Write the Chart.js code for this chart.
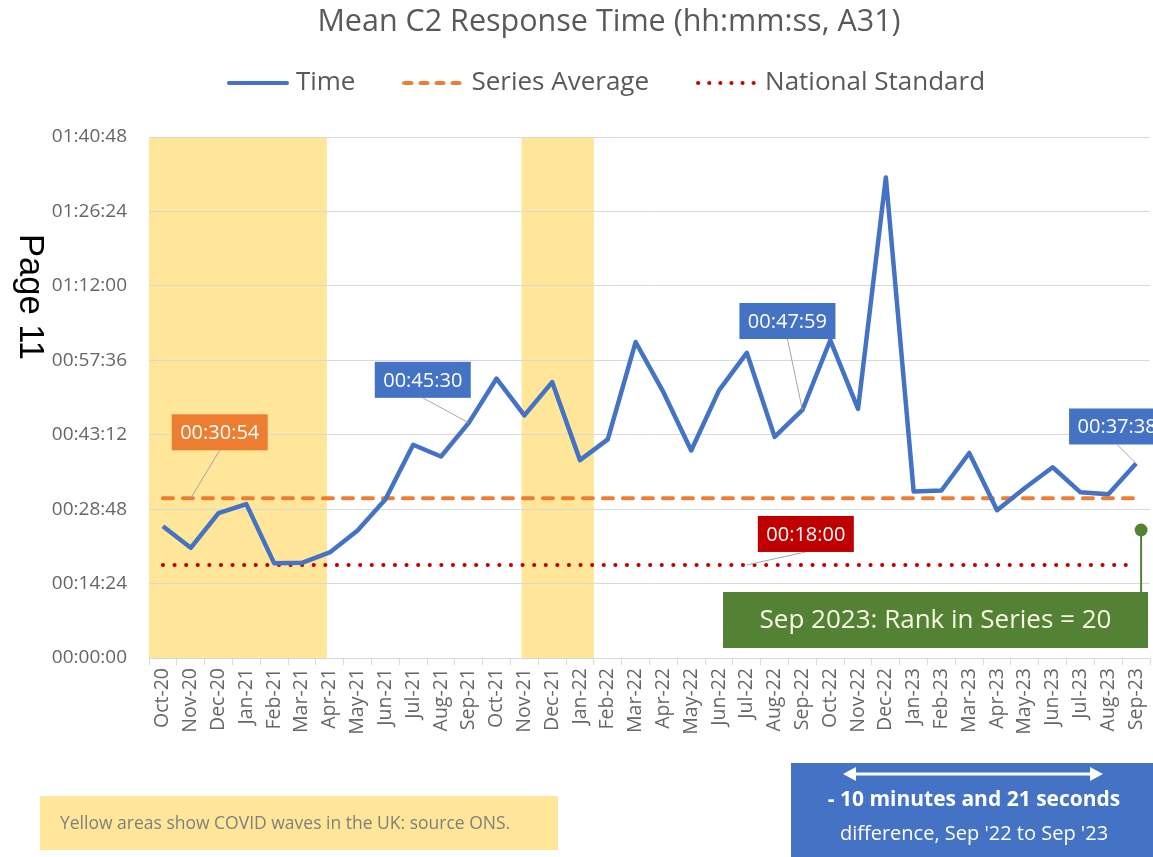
<!DOCTYPE html>
<html>
<head>
<meta charset="utf-8">
<title>Mean C2 Response Time</title>
<script src="https://cdn.jsdelivr.net/npm/chart.js@4.4.1/dist/chart.umd.min.js"></script>
<style>
  body { margin: 0; background: #fff; }
  #wrap { position: relative; width: 1153px; height: 857px; }
</style>
</head>
<body>
<div id="wrap"><canvas id="c2Chart"></canvas></div>
<script>
// months on the x axis
const months = ['Oct-20', 'Nov-20', 'Dec-20', 'Jan-21', 'Feb-21', 'Mar-21', 'Apr-21', 'May-21', 'Jun-21',
  'Jul-21', 'Aug-21', 'Sep-21', 'Oct-21', 'Nov-21', 'Dec-21', 'Jan-22', 'Feb-22', 'Mar-22', 'Apr-22',
  'May-22', 'Jun-22', 'Jul-22', 'Aug-22', 'Sep-22', 'Oct-22', 'Nov-22', 'Dec-22', 'Jan-23', 'Feb-23',
  'Mar-23', 'Apr-23', 'May-23', 'Jun-23', 'Jul-23', 'Aug-23', 'Sep-23'];

// mean C2 response time, in seconds
const timeSeconds = [1529, 1279, 1682, 1786, 1101, 1105, 1225, 1479, 1840,
  2476, 2339, 2730, 3244, 2816, 3203, 2297, 2538, 3668, 3086,
  2409, 3107, 3543, 2567, 2879, 3689, 2891, 5579, 1932, 1944,
  2380, 1716, 1973, 2214, 1923, 1902, 2258];

const seriesAverage = 1854;     // 00:30:54
const nationalStandard = 1080;  // 00:18:00

// y axis: 0 to 01:40:48 in steps of 00:14:24
const yMax = 6048;
const yStep = 864;

// COVID waves as category positions (fractions of a month)
const waveStart = [-0.5, 12.9];
const waveEnd = [5.9, 15.5];

// months that get a value label
const labelledMonths = ['Sep-21', 'Sep-22', 'Sep-23'];
const rankText = 'Sep 2023: Rank in Series = 20';
const noteText = 'Yellow areas show COVID waves in the UK: source ONS.';
const compareFrom = 'Sep-22';
const compareTo = 'Sep-23';

function hms(sec) {
  const h = Math.floor(sec / 3600);
  const m = Math.floor((sec % 3600) / 60);
  const s = Math.round(sec % 60);
  return [h, m, s].map(v => String(v).padStart(2, '0')).join(':');
}

const FONT = 'Open Sans';

// small canvases used as legend samples (so dashes show in the legend)
function lineSample(color, dash) {
  const c = document.createElement('canvas');
  c.width = 62;
  c.height = 8;
  const g = c.getContext('2d');
  g.strokeStyle = color;
  g.lineWidth = 4;
  g.lineCap = 'round';
  g.setLineDash(dash);
  g.beginPath();
  g.moveTo(2, 4);
  g.lineTo(60, 4);
  g.stroke();
  return c;
}

// yellow COVID bands behind the grid
const covidBands = {
  id: 'covidBands',
  beforeDraw(chart) {
    const {ctx, chartArea, scales: {x}} = chart;
    ctx.save();
    ctx.fillStyle = '#FFE699';
    waveStart.forEach((start, i) => {
      const x1 = x.getPixelForValue(start);
      const x2 = x.getPixelForValue(waveEnd[i]);
      ctx.fillRect(x1, chartArea.top, x2 - x1, chartArea.bottom - chartArea.top);
    });
    ctx.restore();
  }
};

// boxed value labels with leader lines
const callouts = {
  id: 'callouts',
  afterDatasetsDraw(chart) {
    const {ctx, scales: {x, y}} = chart;
    const offsets = {'Sep-21': [-46, -43], 'Sep-22': [-15, -89], 'Sep-23': [-19, -37]};
    const items = [
      {idx: 1, value: seriesAverage, color: '#ED7D31', dx: 29, dy: -66},
      {idx: 21, value: nationalStandard, color: '#C00000', dx: 59, dy: -31}
    ];
    labelledMonths.forEach(m => {
      const idx = months.indexOf(m);
      items.push({idx, value: timeSeconds[idx], color: '#4472C4', dx: offsets[m][0], dy: offsets[m][1]});
    });

    ctx.save();
    items.forEach(it => {
      const px = x.getPixelForValue(it.idx);
      const py = y.getPixelForValue(it.value);
      const bx = px + it.dx, by = py + it.dy;
      const w = 96, h = 36;
      ctx.strokeStyle = '#a6a6a6';
      ctx.lineWidth = 1;
      ctx.beginPath();
      ctx.moveTo(bx, by + h / 2);
      ctx.lineTo(px, py);
      ctx.stroke();
      ctx.fillStyle = it.color;
      ctx.fillRect(bx - w / 2, by - h / 2, w, h);
      ctx.fillStyle = '#fff';
      ctx.font = '20px "' + FONT + '"';
      ctx.textAlign = 'center';
      ctx.textBaseline = 'middle';
      ctx.fillText(hms(it.value), bx, by + 1);
    });
    ctx.restore();
  }
};

// rank box, notes and page margin text
const extras = {
  id: 'extras',
  afterDraw(chart) {
    const {ctx, chartArea: area, scales: {x}} = chart;
    ctx.save();

    // rank marker
    const mx = x.getPixelForValue(months.length - 1) + 5;
    const boxTop = area.bottom - 66;
    const dotY = area.bottom - 128;
    ctx.strokeStyle = '#548235';
    ctx.lineWidth = 2;
    ctx.beginPath();
    ctx.moveTo(mx, dotY);
    ctx.lineTo(mx, boxTop);
    ctx.stroke();
    ctx.fillStyle = '#548235';
    ctx.beginPath();
    ctx.arc(mx, dotY, 6.5, 0, Math.PI * 2);
    ctx.fill();
    const rankLeft = 723, rankRight = area.right - 2;
    ctx.fillRect(rankLeft, boxTop, rankRight - rankLeft, 56);
    ctx.fillStyle = '#f7f7e4';
    ctx.font = '26px "' + FONT + '"';
    ctx.textAlign = 'center';
    ctx.textBaseline = 'middle';
    ctx.fillText(rankText, (rankLeft + rankRight) / 2, boxTop + 29);

    // COVID note
    ctx.fillStyle = '#FFE699';
    ctx.fillRect(40, 796, 518, 54);
    ctx.fillStyle = '#7f7f7f';
    ctx.font = '17.5px "' + FONT + '"';
    ctx.textAlign = 'left';
    ctx.fillText(noteText, 60, 824);

    // difference box
    const diff = timeSeconds[months.indexOf(compareFrom)] - timeSeconds[months.indexOf(compareTo)];
    const mins = Math.floor(Math.abs(diff) / 60), secs = Math.abs(diff) % 60;
    const sign = diff > 0 ? '- ' : '+ ';
    ctx.fillStyle = '#4472C4';
    ctx.fillRect(791, 763, 362, 94);
    ctx.strokeStyle = '#fff';
    ctx.fillStyle = '#fff';
    ctx.lineWidth = 3;
    ctx.beginPath();
    ctx.moveTo(852, 774);
    ctx.lineTo(1094, 774);
    ctx.stroke();
    ctx.beginPath();
    ctx.moveTo(843, 774); ctx.lineTo(856, 767); ctx.lineTo(856, 781); ctx.closePath();
    ctx.moveTo(1103, 774); ctx.lineTo(1090, 767); ctx.lineTo(1090, 781); ctx.closePath();
    ctx.fill();
    ctx.textAlign = 'center';
    ctx.font = 'bold 21px "' + FONT + '"';
    ctx.fillText(sign + mins + ' minutes and ' + secs + ' seconds', 974, 800);
    ctx.font = '20px "' + FONT + '"';
    const fmtMonth = m => m.replace('-', " '");
    ctx.fillText('difference, ' + fmtMonth(compareFrom) + ' to ' + fmtMonth(compareTo), 974, 834);

    // page number in the margin
    ctx.translate(30, 297);
    ctx.rotate(Math.PI / 2);
    ctx.fillStyle = '#000';
    ctx.font = '34.5px "Liberation Sans"';
    ctx.textAlign = 'center';
    ctx.fillText('Page 11', 0, 0);
    ctx.restore();
  }
};

new Chart(document.getElementById('c2Chart'), {
  type: 'line',
  data: {
    labels: months,
    datasets: [
      {
        label: 'Time',
        data: timeSeconds,
        borderColor: '#4472C4',
        backgroundColor: '#4472C4',
        borderWidth: 4.5,
        borderJoinStyle: 'round',
        pointRadius: 0,
        pointStyle: lineSample('#4472C4', []),
        tension: 0
      },
      {
        label: 'Series Average',
        data: months.map(() => seriesAverage),
        borderColor: '#ED7D31',
        backgroundColor: '#ED7D31',
        borderWidth: 4,
        borderDash: [10, 10],
        borderCapStyle: 'round',
        pointRadius: 0,
        pointStyle: lineSample('#ED7D31', [7, 9])
      },
      {
        label: 'National Standard',
        data: months.map(() => nationalStandard),
        borderColor: '#C00000',
        backgroundColor: '#C00000',
        borderWidth: 4,
        borderDash: [0.1, 11.5],
        borderCapStyle: 'round',
        pointRadius: 0,
        pointStyle: lineSample('#C00000', [0.1, 11])
      }
    ]
  },
  options: {
    responsive: true,
    maintainAspectRatio: false,
    animation: false,
    // right padding is negative so the title and legend centre where the reference has them
    layout: {padding: {left: 40, right: -25, top: 0, bottom: 99}},
    plugins: {
      title: {
        display: true,
        text: 'Mean C2 Response Time (hh:mm:ss, A31)',
        color: '#595959',
        font: {family: FONT, size: 30.5, weight: 'normal'},
        padding: {top: 3.7, bottom: -23.3}
      },
      // empty subtitle below the legend, only to keep the gap above the plot
      subtitle: {
        display: true,
        text: '',
        weight: 500,
        font: {size: 10, lineHeight: 1},
        padding: {top: 21, bottom: 0}
      },
      legend: {
        labels: {
          usePointStyle: true,
          pointStyleWidth: 50,
          padding: 53,
          color: '#595959',
          font: {family: FONT, size: 26}
        }
      },
      tooltip: {enabled: false}
    },
    scales: {
      x: {
        offset: true,
        grid: {offset: true, drawOnChartArea: false, tickLength: 7, color: '#d9d9d9'},
        border: {color: '#d9d9d9'},
        ticks: {
          autoSkip: false,
          maxRotation: 90,
          minRotation: 90,
          padding: 3,
          color: '#666',
          font: {family: FONT, size: 19.5}
        },
        afterFit(scale) {
          scale.height = 100;
          scale.paddingLeft = 0;
          scale.paddingRight = 3;
        }
      },
      y: {
        min: 0,
        max: yMax,
        grid: {color: '#d9d9d9', drawTicks: false},
        border: {display: false},
        ticks: {
          stepSize: yStep,
          padding: 22,
          color: '#666',
          font: {family: FONT, size: 19},
          callback: value => hms(value)
        },
        afterFit(scale) {
          scale.width = 109;
        }
      }
    }
  },
  plugins: [covidBands, callouts, extras]
});
</script>
</body>
</html>
